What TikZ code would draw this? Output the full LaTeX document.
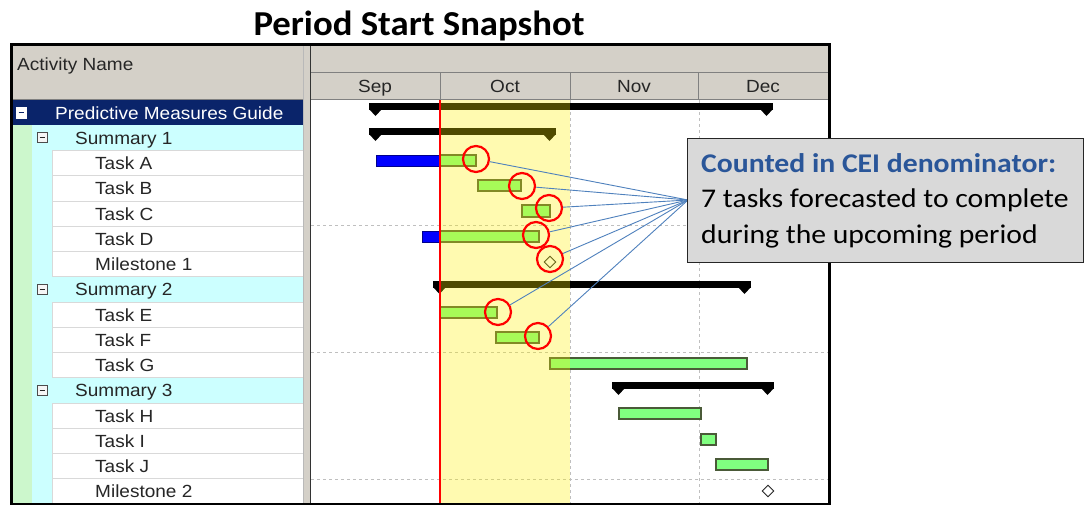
\documentclass[tikz,border=0pt]{standalone}
\usepackage{fontspec}
\setmainfont{Liberation Sans}
\newfontfamily\ganttfont[FakeStretch=1.08]{Liberation Sans}
\newfontfamily\calfont[FakeStretch=1.1]{Carlito}
\newfontfamily\ttlfont[FakeStretch=1.05]{Carlito}
\usetikzlibrary{shapes.geometric}
\definecolor{hdr}{HTML}{D4D0C8}
\definecolor{navy}{HTML}{0A246A}
\definecolor{lgreen}{HTML}{CCF7CC}
\definecolor{lcyan}{HTML}{CCFFFF}
\definecolor{bargreen}{HTML}{80FF80}
\definecolor{baredge}{HTML}{4A5A38}
\definecolor{linkblue}{HTML}{4F81BD}
\definecolor{callfill}{HTML}{D9D9D9}
\definecolor{calltitle}{HTML}{2A5699}
\definecolor{txtgray}{HTML}{262626}
\definecolor{hline}{HTML}{808080}
\tikzset{
  gtext/.style={font=\ganttfont\fontsize{17.6}{20}\selectfont, text=txtgray, inner sep=0pt, anchor=base west},
  mtext/.style={font=\ganttfont\fontsize{17.6}{20}\selectfont, text=txtgray, inner sep=0pt, anchor=base},
  ctext/.style={font=\calfont\fontsize{27}{30}\selectfont, text=black, inner sep=0pt, anchor=base west},
  taskbar/.style={fill=bargreen, draw=baredge, line width=1.1pt},
  basebar/.style={fill=blue, draw=blue!55!black, line width=0.8pt},
  hit/.style={circle, draw=red, line width=2.2pt, minimum size=26pt, inner sep=0pt},
  link/.style={draw=linkblue, line width=0.9pt},
  gridline/.style={draw=gray!50, dash pattern=on 3pt off 3pt, line width=1pt},
  milestone/.style={diamond, draw=gray!30!black, line width=0.9pt, minimum size=12pt, inner sep=0pt},
  rowbox/.style={fill=white, draw=gray!30, line width=0.8pt},
  iconbox/.style={fill=gray!8, draw=gray!60!black, line width=0.7pt}
}
\newcommand\gsumbar[3]{%
  \fill[black] (#1,#3) rectangle (#2,#3+7);
  \fill[black] (#1,#3+6) -- (#1+13,#3+6) -- (#1+6.5,#3+13) -- cycle;
  \fill[black] (#2-13,#3+6) -- (#2,#3+6) -- (#2-6.5,#3+13) -- cycle;
}
\begin{document}
\begin{tikzpicture}[x=1pt,y=-1pt]
\useasboundingbox (0,0) rectangle (1089,506);
\fill[white] (0,0) rectangle (1089,506);

% title
\node[font=\ttlfont\bfseries\fontsize{35}{40}\selectfont, inner sep=0pt, anchor=base] (title) at (419,35) {Period Start Snapshot};

% ---------- left table ----------
\fill[hdr] (12,45) rectangle (303,99);
\draw[hline, line width=1pt] (12,99.5) -- (303,99.5);
\node[gtext] (actname) at (17,70) {Activity Name};
\fill[white] (12,100) rectangle (303,504);
\fill[navy] (12,100) rectangle (303,125.25);
\fill[lgreen] (12,125.25) rectangle (32,504);
\fill[lcyan] (32,125.25) rectangle (52,504);
% summary rows
\foreach \r in {1,7,11} {
  \fill[lcyan] (32,{100+25.25*\r}) rectangle (303,{100+25.25*(\r+1)});
}
% task rows
\foreach \r in {2,3,4,5,6,8,9,10,12,13,14,15} {
  \draw[rowbox] (52,{100+25.25*\r}) rectangle (303,{100+25.25*(\r+1)});
}
% icons
\draw[fill=white, draw=white] (16,107) rectangle (26,118);
\draw[navy, line width=1.6pt] (18.5,112.5) -- (23.5,112.5);
\foreach \r in {1,7,11} {
  \draw[iconbox] (37,{100+25.25*\r+7.5}) rectangle (47,{100+25.25*\r+17.5});
  \draw[gray!30!black, line width=1pt] (39.5,{100+25.25*\r+12.5}) -- (44.5,{100+25.25*\r+12.5});
}
\node[gtext, text=white] (guide) at (55,119) {Predictive Measures Guide};
\node[gtext] (s1) at (75,144.4) {Summary 1};
\node[gtext] (ta) at (95,169.6) {Task A};
\node[gtext] (tb) at (95,194.9) {Task B};
\node[gtext] (tc) at (95,220.1) {Task C};
\node[gtext] (td) at (95,245.4) {Task D};
\node[gtext] (m1) at (95,270.6) {Milestone 1};
\node[gtext] (s2) at (75,295.9) {Summary 2};
\node[gtext] (te) at (95,321.1) {Task E};
\node[gtext] (tf) at (95,346.4) {Task F};
\node[gtext] (tg) at (95,371.6) {Task G};
\node[gtext] (s3) at (75,396.9) {Summary 3};
\node[gtext] (th) at (95,422.1) {Task H};
\node[gtext] (ti) at (95,447.4) {Task I};
\node[gtext] (tj) at (95,472.6) {Task J};
\node[gtext] (m2) at (95,497.9) {Milestone 2};

% splitter
\fill[hdr] (303,45) rectangle (311,504);
\draw[gray!55, line width=1pt] (303.5,45) -- (303.5,504);
\draw[gray!40!black, line width=1pt] (310.5,45) -- (310.5,504);

% ---------- chart header ----------
\fill[hdr] (311,45) rectangle (828,99);
\draw[hline, line width=1pt] (311,72.5) -- (828,72.5);
\draw[hline, line width=1pt] (311,99.5) -- (828,99.5);
\foreach \x in {440,570,698} { \draw[hline, line width=1pt] (\x,72.5) -- (\x,99.5); }
\node[mtext] (sep) at (375,92) {Sep};
\node[mtext] (oct) at (505,92) {Oct};
\node[mtext] (nov) at (634,92) {Nov};
\node[mtext] (dec) at (763,92) {Dec};

% ---------- chart body ----------
\fill[white] (311,100) rectangle (828,504);
\foreach \x in {570,699} { \draw[gridline] (\x,100) -- (\x,504); }
\foreach \y in {225.5,352,479} { \draw[gridline] (311,\y) -- (828,\y); }

% summary bars
\gsumbar{369}{773}{103}
\gsumbar{369}{556}{128}
\gsumbar{433}{751}{281}
\gsumbar{612}{774}{382}

% task bars
\draw[basebar] (376,155) rectangle (440,166);
\draw[taskbar] (440,155) rectangle (476,166);
\draw[taskbar] (478,180) rectangle (521,191);
\draw[taskbar] (522,205) rectangle (550,217);
\draw[basebar] (422,231) rectangle (440,242);
\draw[taskbar] (440,231) rectangle (539,242);
\node[milestone] (ms1) at (550,262) {};
\draw[taskbar] (440,307) rectangle (497,318);
\draw[taskbar] (496,332) rectangle (539,343);
\draw[taskbar] (550,358) rectangle (747,369);
\draw[taskbar] (619,408) rectangle (701,419);
\draw[taskbar] (701,434) rectangle (716,445);
\draw[taskbar] (716,459) rectangle (768,470);
\node[milestone] (ms2) at (768,491) {};

% period highlight
\fill[yellow, fill opacity=0.31] (440,100) rectangle (570,504);
\draw[red, line width=2.8pt] (440,100) -- (440,504);

% callout links
\coordinate (conv) at (688,200);
\node[hit] (ca) at (476,159) {};
\node[hit] (cb) at (522,186) {};
\node[hit] (cc) at (549,208) {};
\node[hit] (cd) at (536,235) {};
\node[hit] (cm) at (550,259) {};
\node[hit] (ce) at (498,312) {};
\node[hit] (cf) at (538,336) {};
\foreach \c in {ca,cb,cc,cd,cm,ce,cf} { \draw[link] (\c) -- (conv); }

% outer frame
\draw[black, line width=2.6pt] (11.3,44.3) rectangle (829.7,504);

% callout
\node[draw=black!85, fill=callfill, line width=1.3pt, minimum width=396pt, minimum height=124pt, anchor=north west, inner sep=0pt] (callout) at (687,138) {};
\node[ctext, text=calltitle, font=\calfont\bfseries\fontsize{27}{30}\selectfont] (cl1) at (701,172) {Counted in CEI denominator:};
\node[ctext] (cl2) at (701,207) {7 tasks forecasted to complete};
\node[ctext] (cl3) at (701,243) {during the  upcoming period};
\end{tikzpicture}
\end{document}
